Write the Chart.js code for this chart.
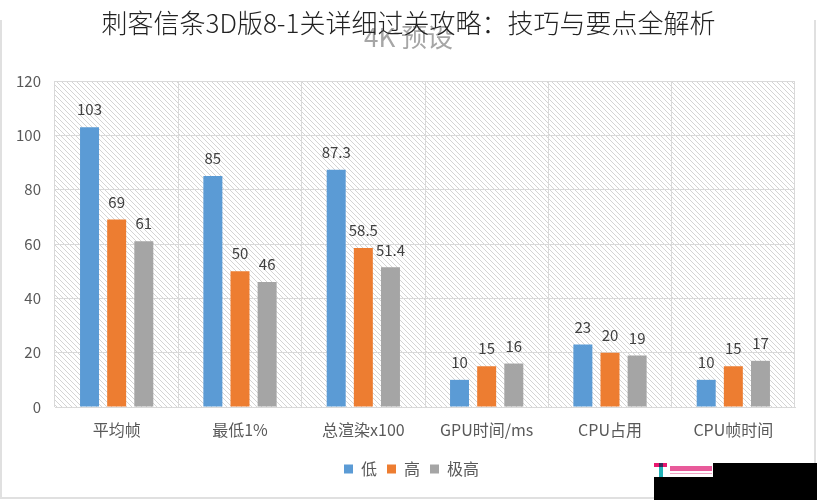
<!DOCTYPE html>
<html>
<head>
<meta charset="utf-8">
<script src="https://cdn.jsdelivr.net/npm/chart.js@4.4.0/dist/chart.umd.min.js"></script>
<style>
  html, body { margin: 0; padding: 0; background: #fff; }
  #wrap { position: relative; width: 817px; height: 500px; overflow: hidden; }
  #frame { position: absolute; left: 0; top: 20px; width: 816px; height: 479px; border-left: 2px solid #e0e0e0; border-bottom: 2px solid #e0e0e0; border-right: 2px solid #e0e0e0; box-sizing: border-box; }
  #sub { position: absolute; left: 0; top: 18px; width: 817px; text-align: center; font: 26px "Noto Sans CJK SC", sans-serif; color: #a6a6a6; line-height: 36px; }
  #title { position: absolute; left: 0; top: 0; width: 817px; text-align: center; font: 300 26px "Noto Sans CJK SC", sans-serif; color: #222; line-height: 44px; }
  canvas { position: absolute; left: 0; top: 0; }
  #blkA { position: absolute; z-index: 5; left: 654px; top: 477px; width: 163px; height: 23px; background-color: #000000; }
  #blkB { position: absolute; z-index: 5; left: 713px; top: 463px; width: 104px; height: 14px; background-color: #000000; }
  #logo { position: absolute; z-index: 5; left: 654px; top: 463px; width: 59px; height: 14px; background: #fff; }
  #logo i { position: absolute; left: 0; top: 0; width: 13px; height: 4px; background: #e8176f; }
  #logo u { position: absolute; left: 5px; top: 0; width: 4px; height: 4px; background: #3a2a5a; }
  #logo b { position: absolute; left: 5px; top: 4px; width: 4px; height: 10px; background: #21b3b8; }
  #logo em { position: absolute; left: 16px; top: 3px; width: 42px; height: 5px; background: #e85a9a; }
  #logo s { position: absolute; left: 16px; top: 10px; width: 42px; height: 1px; background: #f2a6c6; }
</style>
</head>
<body>
<div id="wrap">
  <div id="frame"></div>
  <canvas id="chart" width="817" height="500"></canvas>
  <div id="sub">4K 预设</div>
  <div id="title">刺客信条3D版8-1关详细过关攻略：技巧与要点全解析</div>
  <div id="blkA"></div>
  <div id="blkB"></div>
  <div id="logo"><i></i><u></u><b></b><em></em><s></s></div>
</div>
<script>
const categories = ['平均帧', '最低1%', '总渲染x100', 'GPU时间/ms', 'CPU占用', 'CPU帧时间'];
const lowValues = [103, 85, 87.3, 10, 23, 10];
const highValues = [69, 50, 58.5, 15, 20, 15];
const ultraValues = [61, 46, 51.4, 16, 19, 17];
const seriesNames = ['低', '高', '极高'];
const yTicks = [0, 20, 40, 60, 80, 100, 120];

const FONT = '"Noto Sans CJK SC", sans-serif';

// diagonal hatch for the plot area
function makeHatch() {
    const c = document.createElement('canvas');
    c.width = 5; c.height = 5;
    const g = c.getContext('2d');
    g.strokeStyle = '#d4d4d4';
    g.lineWidth = 1;
    g.beginPath();
    g.moveTo(-1, -1); g.lineTo(6, 6);
    g.moveTo(-1, 4); g.lineTo(1, 6);
    g.moveTo(4, -1); g.lineTo(6, 1);
    g.stroke();
    return g.createPattern(c, 'repeat');
}

const hatchPlugin = {
    id: 'hatch',
    beforeDraw(chart) {
        const a = chart.chartArea;
        const ctx = chart.ctx;
        ctx.save();
        ctx.fillStyle = makeHatch();
        ctx.fillRect(a.left, a.top, a.right - a.left, a.bottom - a.top);
        ctx.restore();
    }
};

const valueLabels = {
    id: 'valueLabels',
    afterDatasetsDraw(chart) {
        const ctx = chart.ctx;
        ctx.save();
        ctx.font = '15px ' + FONT;
        ctx.fillStyle = '#404040';
        ctx.textAlign = 'center';
        ctx.textBaseline = 'bottom';
        chart.data.datasets.forEach((ds, i) => {
            chart.getDatasetMeta(i).data.forEach((bar, j) => {
                ctx.fillText(String(ds.data[j]), bar.x, bar.y - 10);
            });
        });
        ctx.restore();
    }
};

// legend sits a bit right of the plot centre in the original
const legendShift = {
    id: 'legendShift',
    afterLayout(chart) {
        chart.legend.left += 14;
        chart.legend.right += 14;
    }
};

new Chart(document.getElementById('chart'), {
    type: 'bar',
    data: {
        labels: categories,
        datasets: [
            { label: seriesNames[0], data: lowValues, backgroundColor: '#5B9BD5' },
            { label: seriesNames[1], data: highValues, backgroundColor: '#ED7D31' },
            { label: seriesNames[2], data: ultraValues, backgroundColor: '#A5A5A5' }
        ]
    },
    options: {
        responsive: false,
        animation: false,
        categoryPercentage: 0.66,
        barPercentage: 0.7,
        layout: { padding: { left: 0, right: 22, top: 81, bottom: 13 } },
        plugins: {
            legend: {
                position: 'bottom',
                labels: {
                    font: { family: FONT, size: 16 },
                    color: '#595959',
                    boxWidth: 9,
                    boxHeight: 9,
                    padding: 10
                }
            },
            tooltip: { enabled: false }
        },
        scales: {
            x: {
                grid: { color: '#d9d9d9', drawTicks: false },
                border: { color: '#d9d9d9' },
                ticks: { font: { family: FONT, size: 16 }, color: '#595959', padding: 13 },
                afterFit: (s) => { s.height = 44; }
            },
            y: {
                min: 0,
                max: 120,
                afterBuildTicks: (s) => { s.ticks = yTicks.map(v => ({ value: v })); },
                grid: { color: '#d9d9d9', drawTicks: false },
                border: { display: false },
                ticks: { font: { family: FONT, size: 15 }, color: '#595959', padding: 14 },
                afterFit: (s) => { s.width = 55; }
            }
        }
    },
    plugins: [hatchPlugin, valueLabels, legendShift]
});
</script>
</body>
</html>
